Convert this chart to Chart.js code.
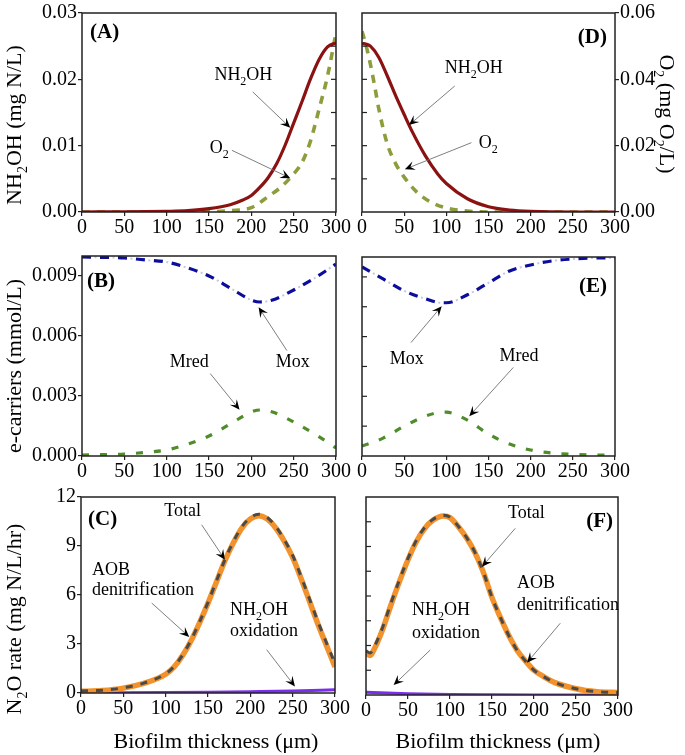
<!DOCTYPE html>
<html>
<head>
<meta charset="utf-8">
<script src="https://cdn.jsdelivr.net/npm/chart.js@4.4.1/dist/chart.umd.min.js"></script>
<style>
html, body { margin: 0; padding: 0; background: #fff; }
#wrap { position: relative; width: 685px; height: 755px; }
#wrap canvas { position: absolute; left: 0; top: 0; }
</style>
</head>
<body>
<div id="wrap">
  <canvas id="pA" width="685" height="755"></canvas>
  <canvas id="pD" width="685" height="755"></canvas>
  <canvas id="pB" width="685" height="755"></canvas>
  <canvas id="pE" width="685" height="755"></canvas>
  <canvas id="pC" width="685" height="755"></canvas>
  <canvas id="pF" width="685" height="755"></canvas>
</div>
<script>
const FONT = "'Liberation Serif', 'Times New Roman', serif";

const xTicks = [0, 50, 100, 150, 200, 250, 300];
const yTicksA = [0, 0.01, 0.02, 0.03];
const yTicksD = [0, 0.02, 0.04, 0.06];
const yTicksB = [0, 0.003, 0.006, 0.009];
const yTicksC = [0, 3, 6, 9, 12];

// (A) concentrations, substrate enters at 300 um
const xNh2ohA = [0, 50, 100, 125, 150, 175, 190, 200, 210, 220, 230, 240, 250, 260, 270, 280, 290, 300];
const nh2ohA = [0, 0.00002, 0.0001, 0.0002, 0.0005, 0.0011, 0.0018, 0.0025, 0.0037, 0.0052, 0.0073, 0.0101, 0.0134, 0.0167, 0.0201, 0.0230, 0.0249, 0.0255];
const xO2A = [0, 100, 150, 175, 200, 220, 235, 250, 260, 270, 280, 290, 300];
const o2A = [0, 0, 0.0001, 0.0004, 0.0013, 0.0047, 0.0075, 0.0115, 0.015, 0.0215, 0.031, 0.041, 0.054];

// (D) concentrations, substrate enters at 0 um
const xNh2ohD = [0, 5, 10, 20, 30, 40, 50, 60, 75, 90, 100, 125, 150, 175, 200, 250, 300];
const nh2ohD = [0.0254, 0.0253, 0.025, 0.0233, 0.0205, 0.0175, 0.0147, 0.012, 0.0085, 0.0057, 0.0043, 0.002, 0.0008, 0.0003, 0.0001, 0, 0];
const xO2D = [0, 5, 10, 15, 20, 30, 40, 50, 65, 80, 100, 125, 150, 300];
const o2D = [0.0545, 0.050, 0.0445, 0.038, 0.031, 0.0205, 0.0145, 0.0105, 0.006, 0.0032, 0.0012, 0.0003, 0, 0];

// (B) electron carriers
const xB = [0, 25, 50, 75, 100, 125, 150, 175, 200, 210, 225, 250, 275, 300];
const moxB = [0.00995, 0.00993, 0.0099, 0.0098, 0.0097, 0.0094, 0.009, 0.0084, 0.0078, 0.0077, 0.0078, 0.0083, 0.0089, 0.0096];
const mredB = [0.00005, 0.00007, 0.0001, 0.00018, 0.0003, 0.0006, 0.001, 0.0016, 0.0022, 0.0023, 0.0022, 0.0017, 0.0011, 0.0004];

// (E) electron carriers
const xE = [0, 25, 50, 75, 95, 100, 125, 150, 175, 200, 225, 250, 275, 300];
const moxE = [0.0095, 0.0089, 0.0083, 0.0079, 0.0077, 0.0077, 0.0081, 0.0087, 0.0093, 0.0096, 0.0098, 0.0099, 0.00995, 0.00995];
const mredE = [0.0005, 0.0009, 0.0015, 0.002, 0.0022, 0.0022, 0.0018, 0.0011, 0.0006, 0.0003, 0.00015, 0.00008, 0.00005, 0.00005];

// (C) N2O production rates
const xC = [0, 25, 50, 75, 100, 110, 120, 130, 140, 150, 160, 170, 180, 190, 200, 210, 220, 230, 240, 250, 260, 270, 280, 290, 300];
const aobC = [0.1, 0.15, 0.3, 0.6, 1.15, 1.6, 2.3, 3.2, 4.3, 5.5, 6.8, 8.1, 9.2, 10.1, 10.65, 10.85, 10.65, 10.1, 9.3, 8.3, 7.0, 5.6, 4.2, 2.9, 1.6];
const totalC = [0.12, 0.17, 0.32, 0.62, 1.18, 1.63, 2.33, 3.24, 4.34, 5.55, 6.86, 8.16, 9.27, 10.18, 10.73, 10.94, 10.75, 10.2, 9.4, 8.42, 7.12, 5.74, 4.35, 3.06, 1.8];
const xOxC = [0, 50, 100, 150, 200, 250, 300];
const oxC = [0.02, 0.02, 0.03, 0.05, 0.08, 0.12, 0.2];

// (F) N2O production rates
const xF = [0, 5, 10, 20, 30, 40, 50, 60, 70, 80, 92, 100, 110, 120, 130, 140, 150, 160, 170, 180, 190, 200, 212, 225, 250, 275, 300];
const aobF = [2.5, 2.4, 2.8, 4.0, 5.5, 6.9, 8.2, 9.3, 10.1, 10.6, 10.85, 10.75, 10.2, 9.5, 8.6, 7.4, 5.9, 4.7, 3.6, 2.7, 2.05, 1.5, 1.1, 0.75, 0.38, 0.2, 0.15];
const totalF = [2.67, 2.55, 2.94, 4.12, 5.61, 7.0, 8.28, 9.37, 10.16, 10.65, 10.89, 10.78, 10.22, 9.52, 8.61, 7.41, 5.91, 4.7, 3.6, 2.7, 2.05, 1.5, 1.1, 0.75, 0.38, 0.2, 0.15];
const xOxF = [0, 25, 50, 100, 150, 200, 300];
const oxF = [0.17, 0.12, 0.08, 0.03, 0.01, 0, 0];

const RED = '#8a1212', OLIVE = '#8e9d3c', NAVY = '#0d0d9c', GREEN = '#4f8c2a';
const ORANGE = '#f2922c', GREY = '#4a4a4a', PURPLE = '#7b2cf0';

const NH2OH = [['NH', 0], ['2', 1], ['OH', 0]];
const O2 = [['O', 0], ['2', 1]];

const YW = 70, XH = 28;   // room kept for tick labels

function pts(xs, ys) {
    return xs.map((x, i) => ({ x: x, y: ys[i] }));
}

function line(xs, ys, color, width, dash, axis) {
    return {
        data: pts(xs, ys),
        borderColor: color,
        borderWidth: width,
        borderDash: dash || [],
        yAxisID: axis || 'y',
        showLine: true,
        fill: false,
        pointRadius: 0,
        cubicInterpolationMode: 'monotone'
    };
}

function drawRich(ctx, parts, x, y, align, size) {
    const sub = Math.round(size * 0.65);
    let w = 0;
    parts.forEach(p => {
        ctx.font = (p[1] ? sub : size) + 'px ' + FONT;
        w += ctx.measureText(p[0]).width;
    });
    let cx = align === 'center' ? x - w / 2 : (align === 'right' ? x - w : x);
    ctx.textAlign = 'left';
    ctx.textBaseline = 'alphabetic';
    ctx.fillStyle = '#000';
    parts.forEach(p => {
        ctx.font = (p[1] ? sub : size) + 'px ' + FONT;
        ctx.fillText(p[0], cx, y + (p[1] ? size * 0.28 : 0));
        cx += ctx.measureText(p[0]).width;
    });
}

function drawArrow(ctx, x1, y1, x2, y2) {
    const ang = Math.atan2(y2 - y1, x2 - x1);
    const L = 10, W = 4.5;
    ctx.strokeStyle = '#707070';
    ctx.lineWidth = 0.9;
    ctx.setLineDash([]);
    ctx.beginPath();
    ctx.moveTo(x1, y1);
    ctx.lineTo(x2 - Math.cos(ang) * L * 0.6, y2 - Math.sin(ang) * L * 0.6);
    ctx.stroke();
    ctx.save();
    ctx.translate(x2, y2);
    ctx.rotate(ang);
    ctx.fillStyle = '#000';
    ctx.beginPath();
    ctx.moveTo(0, 0);
    ctx.lineTo(-L, -W);
    ctx.lineTo(-L * 0.6, 0);
    ctx.lineTo(-L, W);
    ctx.closePath();
    ctx.fill();
    ctx.restore();
}

// frame, panel letters, arrows with notes, axis titles
const decoPlugin = {
    id: 'deco',
    afterDraw(chart, args, o) {
        const ctx = chart.ctx, a = chart.chartArea;
        ctx.save();
        ctx.setLineDash([]);
        ctx.strokeStyle = '#222';
        ctx.lineWidth = 1.2;
        (o.inTicks || []).forEach(t => {
            const sc = chart.scales[t.axis];
            t.values.forEach(v => {
                const p = sc.getPixelForValue(v);
                ctx.beginPath();
                if (t.side === 'left') { ctx.moveTo(a.left, p); ctx.lineTo(a.left + 5, p); }
                else { ctx.moveTo(a.right, p); ctx.lineTo(a.right - 5, p); }
                ctx.stroke();
            });
        });
        ctx.lineWidth = 1.5;
        ctx.strokeRect(a.left, a.top, a.right - a.left, a.bottom - a.top);

        ctx.font = 'bold 21px ' + FONT;
        ctx.fillStyle = '#000';
        ctx.textAlign = o.tag.align;
        ctx.textBaseline = 'alphabetic';
        ctx.fillText(o.tag.text, o.tag.x, o.tag.y);

        const xs = chart.scales.x;
        (o.notes || []).forEach(n => {
            const ys = chart.scales[n.axis || 'y'];
            n.text.forEach(t => drawRich(ctx, t.parts, xs.getPixelForValue(t.x), ys.getPixelForValue(t.y), t.align || 'center', 18));
            const r = n.arrow;
            drawArrow(ctx, xs.getPixelForValue(r[0]), ys.getPixelForValue(r[1]), xs.getPixelForValue(r[2]), ys.getPixelForValue(r[3]));
        });

        (o.titles || []).forEach(t => {
            ctx.save();
            ctx.translate(t.x, t.y);
            ctx.rotate(t.rot || 0);
            drawRich(ctx, t.parts, 0, 0, 'center', 22);
            ctx.restore();
        });
        ctx.restore();
    }
};

function xAxis() {
    return {
        type: 'linear', min: 0, max: 300,
        afterBuildTicks: s => { s.ticks = xTicks.map(v => ({ value: v })); },
        afterFit: s => { s.height = XH; },
        ticks: { color: '#000', font: { family: FONT, size: 20 }, padding: 0, maxRotation: 0, autoSkip: false, callback: v => String(v) },
        grid: { drawOnChartArea: false, drawTicks: true, tickLength: 4, color: '#222', lineWidth: 1.2 },
        border: { display: false }
    };
}

function yAxis(pos, min, max, ticks, dec) {
    if (!ticks) {
        return { type: 'linear', position: pos, min: min, max: max, display: false };
    }
    return {
        type: 'linear', position: pos, min: min, max: max,
        afterBuildTicks: s => { s.ticks = ticks.map(v => ({ value: v })); },
        afterFit: s => { s.width = YW; },
        ticks: { color: '#000', font: { family: FONT, size: 20 }, padding: 1, callback: v => v.toFixed(dec) },
        grid: { drawOnChartArea: false, drawTicks: true, tickLength: 4, color: '#222', lineWidth: 1.2 },
        border: { display: false }
    };
}

function panel(id, box, datasets, scales, deco) {
    scales.x = xAxis();
    const leftShown = scales.y && scales.y.display !== false;
    const rightShown = scales.y1 && scales.y1.display !== false;
    new Chart(document.getElementById(id), {
        type: 'scatter',
        data: { datasets: datasets },
        options: {
            responsive: false,
            animation: false,
            events: [],
            layout: {
                padding: {
                    left: box[0] - (leftShown ? YW : 0),
                    top: box[1],
                    right: 685 - box[2] - (rightShown ? YW : 0),
                    bottom: 755 - box[3] - XH
                }
            },
            scales: scales,
            plugins: { legend: { display: false }, tooltip: { enabled: false }, deco: deco }
        },
        plugins: [decoPlugin]
    });
}

const halfA = [0.005, 0.01, 0.015, 0.02, 0.025];

panel('pA', [82, 13, 336, 212],
    [line(xNh2ohA, nh2ohA, RED, 3.2), line(xO2A, o2A, OLIVE, 3.6, [8, 7], 'y1')],
    { y: yAxis('left', 0, 0.03, yTicksA, 2), y1: yAxis('right', 0, 0.06) },
    {
        tag: { text: '(A)', x: 90, y: 38, align: 'left' },
        inTicks: [{ axis: 'y', side: 'right', values: halfA }],
        notes: [
            { text: [{ parts: NH2OH, x: 190.6, y: 0.0199 }], arrow: [201.7, 0.0181, 246, 0.0127] },
            { text: [{ parts: O2, x: 162, y: 0.0089 }], arrow: [177, 0.0093, 246, 0.0051] }
        ],
        titles: [{ parts: [['NH', 0], ['2', 1], ['OH (mg N/L)', 0]], x: 21, y: 125, rot: -Math.PI / 2 }]
    });

panel('pD', [362, 13, 615, 212],
    [line(xNh2ohD, nh2ohD, RED, 3.2), line(xO2D, o2D, OLIVE, 3.6, [8, 7], 'y1')],
    { y: yAxis('left', 0, 0.03), y1: yAxis('right', 0, 0.06, yTicksD, 2) },
    {
        tag: { text: '(D)', x: 607, y: 43, align: 'right' },
        inTicks: [{ axis: 'y', side: 'left', values: halfA }],
        notes: [
            { text: [{ parts: NH2OH, x: 132.4, y: 0.021 }], arrow: [110, 0.019, 55.7, 0.0131] },
            { text: [{ parts: O2, x: 149.6, y: 0.00965 }], arrow: [129.7, 0.01045, 50.8, 0.00644] }
        ],
        titles: [{ parts: [['O', 0], ['2', 1], [' (mg O', 0], ['2', 1], ['/L)', 0]], x: 660, y: 114, rot: Math.PI / 2 }]
    });

function moxLines(xs, ys) {
    const top = line(xs, ys, NAVY, 3.2, [9, 9]);
    const dots = line(xs, ys, '#c4c8de', 2, [2, 16]);
    dots.borderDashOffset = -12.5;
    return [top, dots];
}

panel('pB', [82, 256, 336, 456],
    moxLines(xB, moxB).concat([line(xB, mredB, GREEN, 3.2, [7, 11])]),
    { y: yAxis('left', 0, 0.01, yTicksB, 3) },
    {
        tag: { text: '(B)', x: 87, y: 287, align: 'left' },
        notes: [
            { text: [{ parts: [['Mox', 0]], x: 249, y: 0.00444 }], arrow: [242, 0.00527, 208.6, 0.00744] },
            { text: [{ parts: [['Mred', 0]], x: 126.7, y: 0.00444 }], arrow: [151.5, 0.00412, 186.1, 0.00231] }
        ],
        titles: [{ parts: [['e-carriers (mmol/L)', 0]], x: 21, y: 366, rot: -Math.PI / 2 }]
    });

panel('pE', [362, 257, 615, 456],
    moxLines(xE, moxE).concat([line(xE, mredE, GREEN, 3.2, [7, 11])]),
    { y: yAxis('left', 0, 0.01) },
    {
        tag: { text: '(E)', x: 607, y: 292, align: 'right' },
        inTicks: [{ axis: 'y', side: 'left', values: [0.0015, 0.003, 0.0045, 0.006, 0.0075, 0.009] }],
        notes: [
            { text: [{ parts: [['Mox', 0]], x: 53, y: 0.00462 }], arrow: [58.1, 0.0057, 94.5, 0.00753] },
            { text: [{ parts: [['Mred', 0]], x: 186.2, y: 0.00475 }], arrow: [179.4, 0.00445, 127.2, 0.002] }
        ]
    });

const BIOFILM = [['Biofilm thickness (\u03BCm)', 0]];

panel('pC', [81, 497, 335, 693],
    [line(xC, totalC, GREY, 3, [7, 8]), line(xC, aobC, ORANGE, 5.5), line(xOxC, oxC, PURPLE, 3)],
    { y: yAxis('left', 0, 12, yTicksC, 0) },
    {
        tag: { text: '(C)', x: 88, y: 525, align: 'left' },
        notes: [
            { text: [{ parts: [['Total', 0]], x: 119.9, y: 10.81 }], arrow: [142.5, 10.3, 170, 8.16] },
            { text: [{ parts: [['AOB', 0]], x: 13, y: 7.24, align: 'left' }, { parts: [['denitrification', 0]], x: 13, y: 6.02, align: 'left' }], arrow: [83.5, 5.51, 127.9, 3.43] },
            { text: [{ parts: NH2OH, x: 176, y: 4.79, align: 'left' }, { parts: [['oxidation', 0]], x: 176, y: 3.47, align: 'left' }], arrow: [219.3, 2.65, 252.7, 0.4] }
        ],
        titles: [
            { parts: [['N', 0], ['2', 1], ['O rate (mg N/L/hr)', 0]], x: 21, y: 619, rot: -Math.PI / 2 },
            { parts: BIOFILM, x: 216, y: 748 }
        ]
    });

panel('pF', [366, 497, 618, 695],
    [line(xF, totalF, GREY, 3, [7, 8]), line(xF, aobF, ORANGE, 5.5), line(xOxF, oxF, PURPLE, 3)],
    { y: yAxis('left', 0, 12) },
    {
        tag: { text: '(F)', x: 613, y: 527, align: 'right' },
        inTicks: [{ axis: 'y', side: 'left', values: [1.5, 3, 4.5, 6, 7.5, 9, 10.5] }],
        notes: [
            { text: [{ parts: [['Total', 0]], x: 190.8, y: 10.71 }], arrow: [177.7, 10.1, 138.1, 7.78] },
            { text: [{ parts: [['AOB', 0]], x: 179.8, y: 6.46, align: 'left' }, { parts: [['denitrification', 0]], x: 179.8, y: 5.15, align: 'left' }], arrow: [231.3, 4.35, 191.7, 1.96] },
            { text: [{ parts: NH2OH, x: 54.8, y: 4.85, align: 'left' }, { parts: [['oxidation', 0]], x: 54.8, y: 3.44, align: 'left' }], arrow: [76.5, 2.73, 32.9, 0.6] }
        ],
        titles: [{ parts: BIOFILM, x: 498, y: 748 }]
    });
</script>
</body>
</html>
